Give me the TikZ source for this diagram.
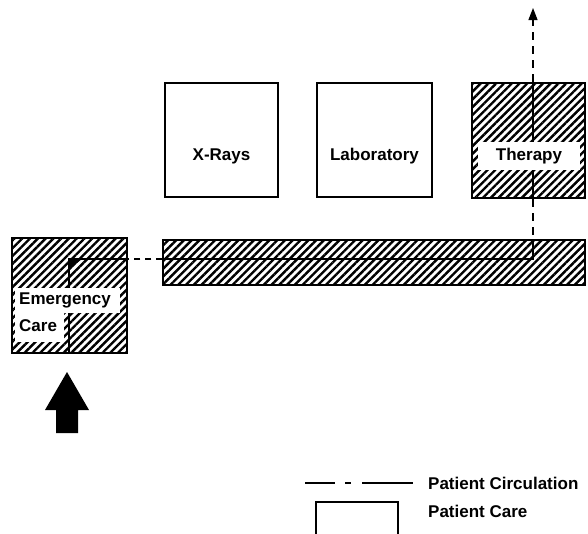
\documentclass[tikz,border=0pt]{standalone}
\usepackage{fontspec}
\setmainfont{Liberation Sans}
\usetikzlibrary{arrows.meta,patterns.meta}
\tikzset{
 room/.style={draw, line width=1.1pt, rectangle, inner sep=0pt},
 hatched/.style={room, pattern={Lines[angle=45,distance=5.5pt,line width=2.4pt]}},
 lab/.style={font=\bfseries\fontsize{17}{20}\selectfont, inner sep=0pt},
 band/.style={fill=white, inner sep=0pt, rectangle},
 circ/.style={line width=1.1pt},
 circdash/.style={line width=1.1pt, dash pattern=on 8pt off 6pt},
}
\begin{document}
\begin{tikzpicture}[x=1pt,y=-1pt]
\useasboundingbox (0,0) rectangle (588,533);
% rooms
\node[room, minimum width=113pt, minimum height=114pt] (xr) at (221.5,140) {};
\node[room, minimum width=115pt, minimum height=114pt] (lb) at (374.5,140) {};
\node[hatched, minimum width=113pt, minimum height=115pt] (th) at (528.5,140.5) {};
\node[hatched, minimum width=422pt, minimum height=45pt] (cor) at (374,262.5) {};
\node[hatched, minimum width=115pt, minimum height=115pt] (ec) at (69.5,295.5) {};
% circulation path
\coordinate (tip) at (533,8);
\coordinate (turn) at (533,259);
\coordinate (ecturn) at (69,259);
\draw[circdash, -{Triangle[length=12pt,width=9pt]}] (th.north -| tip) -- (tip);
\draw[circ] (th.north -| tip) -- (th.south -| tip);
\draw[circdash] (th.south -| tip) -- (cor.north -| tip);
\draw[circ] (cor.north -| tip) -- (turn) -- (cor.west |- turn);
\draw[circdash, dash pattern=on 6pt off 5pt] (cor.west |- turn) -- (ec.east |- turn);
\draw[circ] (ec.east |- turn) -- (ecturn) -- (ec.south -| ecturn);
\fill (ecturn) -- ++(13,0) -- ++(-13,10) -- cycle;
% white bands
\node[band, minimum width=102pt, minimum height=28pt] (thb) at (529,156) {};
\node[band, minimum width=105pt, minimum height=25pt] (ecb1) at (67.5,300.5) {};
\node[band, minimum width=49pt, minimum height=29pt] (ecb2) at (39.5,327.5) {};
% labels
\node[lab] (xrt) at (221.5,156) {X-Rays};
\node[lab] (lbt) at (374.5,156) {Laboratory};
\node[lab] (tht) at (529,156) {Therapy};
\node[lab, anchor=west] (ect1) at (19,300) {Emergency};
\node[lab, anchor=west] (ect2) at (19,326) {Care};
% entry arrow
\fill (67,372) -- (89,410) -- (78,410) -- (78,433) -- (56,433) -- (56,410) -- (45,410) -- cycle;
% legend
\coordinate (lg1) at (305,483);
\coordinate (lg2) at (413,483);
\draw[circ, dash pattern=on 30pt off 10pt on 6pt off 11pt on 51pt] (lg1) -- (lg2);
\draw[line width=1.1pt] (316,540) -- (316,502) -- (398,502) -- (398,540);
\node[lab, anchor=west] (lgt1) at (428,483) {Patient Circulation};
\node[lab, anchor=west] (lgt2) at (428,511) {Patient Care};
\end{tikzpicture}
\end{document}
